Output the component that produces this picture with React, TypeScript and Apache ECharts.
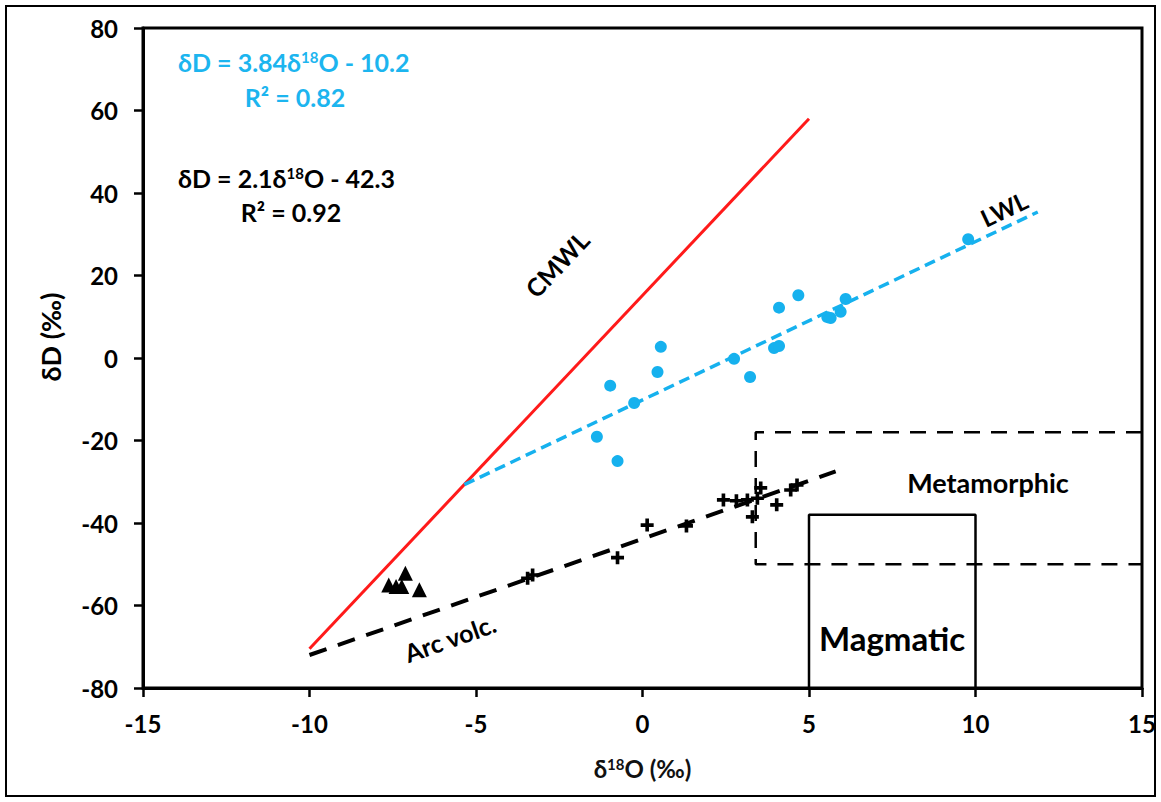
import React, { useEffect, useRef } from "react";
import * as echarts from "echarts";

const xTicks = [-15, -10, -5, 0, 5, 10, 15];
const yTicks = [-80, -60, -40, -20, 0, 20, 40, 60, 80];

const lwlSamples: number[][] = [
  [-1.37, -19.1], [-0.97, -6.7], [-0.75, -25.0], [-0.25, -10.9], [0.45, -3.4],
  [0.55, 2.7], [2.75, -0.2], [3.23, -4.6], [3.95, 2.4], [4.1, 2.9], [4.1, 12.2],
  [4.68, 15.2], [5.55, 9.9], [5.65, 9.7], [5.95, 11.2], [6.1, 14.3], [9.78, 28.8],
];
const crossSamples: number[][] = [
  [-3.45, -53.4], [-3.3, -52.6], [-0.75, -48.4], [0.14, -40.5], [1.32, -40.7],
  [2.43, -34.4], [2.82, -34.6], [3.15, -34.4], [3.45, -34.0], [3.55, -31.5],
  [3.3, -38.5], [4.03, -35.6], [4.45, -32.0], [4.64, -30.8],
];
const triangleSamples: number[][] = [
  [-7.62, -55.0], [-7.4, -55.4], [-7.12, -52.2], [-7.23, -55.4], [-6.7, -56.2],
];
const cmwlLine: number[][] = [[-10, -70.5], [5, 58]];
const lwlLine: number[][] = [[-5.35, -30.7], [11.87, 35.4]];
const arcLine: number[][] = [[-10, -72], [5.8, -27.5]];
const metamorphicBox: number[][] = [[15, -18], [3.4, -18], [3.4, -50], [15, -50]];
const magmaticBox: number[][] = [[5, -80], [5, -38], [10, -38], [10, -80]];

const FONT = "Lato, 'Open Sans', sans-serif";
const BLUE = "#16b1ee";
const TEXTBLUE = "#1cb5ef";

export default function App() {
  const ref = useRef<HTMLDivElement>(null);
  useEffect(() => {
    if (!ref.current) return;
    const chart = echarts.init(ref.current, undefined, { renderer: "svg" });
    const richBase = (color: string) => ({
      a: { fontSize: 25, fontWeight: "bold", fontFamily: FONT, fill: color, color },
      s: { fontSize: 15, fontWeight: "bold", fontFamily: FONT, fill: color, color, verticalAlign: "top", padding: [0, 0, 9, 0] },
    });
    chart.setOption({
      animation: false,
      backgroundColor: "#fff",
      grid: {
        left: 143, right: 19, top: 28, bottom: 114,
        show: true, borderColor: "#000", borderWidth: 3,
      },
      xAxis: {
        type: "value", min: -15, max: 15, interval: 5,
        name: "{a|δ}{s|18}{a|O (‰)}", nameLocation: "middle", nameGap: 68,
        nameTextStyle: {
          rich: {
            a: { fontSize: 24, fontWeight: "bold", fontFamily: FONT, color: "#111" },
            s: { fontSize: 15, fontWeight: "bold", fontFamily: FONT, color: "#111", verticalAlign: "top", padding: [0, 0, 9, 0] },
          },
        },
        axisLine: { onZero: false, lineStyle: { color: "#000", width: 3 } },
        axisTick: { show: true, length: 9, lineStyle: { color: "#000", width: 2.5 } },
        axisLabel: { color: "#000", fontSize: 24, fontWeight: "bold", fontFamily: FONT, margin: 23,
          formatter: (v: number) => (xTicks.includes(v) ? String(v) : "") },
        splitLine: { show: false },
      },
      yAxis: {
        type: "value", min: -80, max: 80, interval: 20,
        axisLine: { onZero: false, lineStyle: { color: "#000", width: 3 } },
        axisTick: { show: true, length: 9, lineStyle: { color: "#000", width: 2.5 } },
        axisLabel: { color: "#000", fontSize: 24, fontWeight: "bold", fontFamily: FONT, margin: 25,
          formatter: (v: number) => (yTicks.includes(v) ? String(v) : "") },
        splitLine: { show: false },
      },
      series: [
        { type: "line", data: magmaticBox, symbol: "none", lineStyle: { color: "#000", width: 2.5 } },
        { type: "line", data: metamorphicBox, symbol: "none", lineStyle: { color: "#000", width: 2.5, type: [16, 11] } },
        { type: "line", data: cmwlLine, symbol: "none", lineStyle: { color: "#ff1a1a", width: 3 } },
        { type: "line", data: lwlLine, symbol: "none", lineStyle: { color: BLUE, width: 3.5, type: [11, 6] } },
        { type: "line", data: arcLine, symbol: "none", lineStyle: { color: "#000", width: 4, type: [18, 12] } },
        { type: "scatter", data: lwlSamples, symbol: "circle", symbolSize: 12, itemStyle: { color: BLUE, opacity: 1 } },
        {
          type: "scatter", data: crossSamples, symbolSize: 13,
          symbol: "path://M3.6,0h2.8v3.6h3.6v2.8h-3.6v3.6h-2.8v-3.6h-3.6v-2.8h3.6z",
          itemStyle: { color: "#000", opacity: 1 },
        },
        { type: "scatter", data: triangleSamples, symbol: "triangle", symbolSize: 15, itemStyle: { color: "#000", opacity: 1 } },
      ],
      graphic: [
        { type: "rect", shape: { x: 6, y: 6, width: 1149, height: 790 }, style: { fill: "none", stroke: "#000", lineWidth: 2 } },
        { type: "text", x: 50, y: 337, rotation: Math.PI / 2, style: { text: "δD (‰)", font: `bold 27px ${FONT}`, fill: "#000", textAlign: "center", textVerticalAlign: "middle" } },
        { type: "text", x: 178, y: 62, style: { text: "{a|δD = 3.84δ}{s|18}{a|O - 10.2}", rich: richBase(TEXTBLUE), fill: TEXTBLUE, textAlign: "left", textVerticalAlign: "middle" } },
        { type: "text", x: 295, y: 97, style: { text: "{a|R² = 0.82}", rich: richBase(TEXTBLUE), fill: TEXTBLUE, textAlign: "center", textVerticalAlign: "middle" } },
        { type: "text", x: 178, y: 178, style: { text: "{a|δD = 2.1δ}{s|18}{a|O - 42.3}", rich: richBase("#000"), textAlign: "left", textVerticalAlign: "middle" } },
        { type: "text", x: 291, y: 212, style: { text: "{a|R² = 0.92}", rich: richBase("#000"), textAlign: "center", textVerticalAlign: "middle" } },
        { type: "text", x: 557, y: 264, rotation: 0.815, style: { text: "CMWL", font: `bold 25px ${FONT}`, fill: "#000", textAlign: "center", textVerticalAlign: "middle" } },
        { type: "text", x: 1004, y: 209, rotation: 0.44, style: { text: "LWL", font: `bold 24px ${FONT}`, fill: "#000", textAlign: "center", textVerticalAlign: "middle" } },
        { type: "text", x: 450, y: 638, rotation: 0.34, style: { text: "Arc volc.", font: `bold 25px ${FONT}`, fill: "#000", textAlign: "center", textVerticalAlign: "middle" } },
        { type: "text", x: 988, y: 482, style: { text: "Metamorphic", font: `bold 27px ${FONT}`, fill: "#000", textAlign: "center", textVerticalAlign: "middle" } },
        { type: "text", x: 892, y: 638, style: { text: "Magmatic", font: `bold 33px ${FONT}`, fill: "#000", textAlign: "center", textVerticalAlign: "middle" } },
      ],
    });
    return () => chart.dispose();
  }, []);
  return <div ref={ref} style={{ position: "fixed", left: 0, top: 0, width: 1161, height: 802 }} />;
}
